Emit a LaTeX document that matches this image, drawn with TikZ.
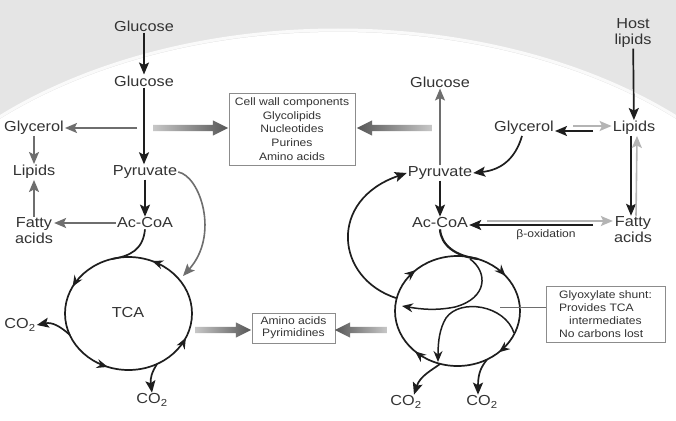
\documentclass[tikz,border=0pt]{standalone}
\usepackage{fontspec}
\setmainfont{Liberation Sans}[FakeStretch=1.12]
\usetikzlibrary{arrows.meta,shapes.arrows,decorations.markings}

\definecolor{txt}{HTML}{333333}
\definecolor{dk}{HTML}{1E1E1E}
\definecolor{md}{HTML}{6E6E6E}
\definecolor{lt}{HTML}{B4B4B4}

\tikzset{
  lbl/.style={font=\fontsize{14.5}{16}\selectfont, text=txt, inner sep=1pt},
  sml/.style={font=\fontsize{10.8}{13.7}\selectfont, text=txt},
  infobox/.style={draw=black!45, line width=0.8pt, fill=white, sml, align=center},
  blk/.style={draw=dk, line width=1.7pt, -{Stealth[length=12pt,width=10pt,inset=2.5pt]}},
  gry/.style={draw=md, line width=1.6pt, -{Stealth[length=12pt,width=10pt,inset=2.5pt]}},
  lgt/.style={draw=lt, line width=1.6pt, -{Stealth[length=12pt,width=10pt,inset=2.5pt]}},
  fatr/.style={single arrow, minimum height=#1, minimum width=15pt,
    single arrow head extend=4.5pt, single arrow tip angle=53,
    inner xsep=0pt, inner ysep=3pt,
    left color=black!22, right color=black!66},
  fatl/.style={fatr=#1, shape border rotate=180, left color=black!66, right color=black!22},
  loop/.style={color=dk, line width=1.7pt, postaction={decorate}},
}

\begin{document}
\begin{tikzpicture}[x=1pt,y=-1pt]
\useasboundingbox (0,0) rectangle (676,420);

% --- Background (cell) ---
\shade[left color=black!10, middle color=black!3, right color=black!10] (0,0) rectangle (676,420);
\fill[white] (338,332) ellipse [x radius=480, y radius=300];
\draw[black!2, line width=3pt] (338,332) ellipse [x radius=482, y radius=302];

% --- Left half: glycolysis ---
\node[lbl] (gluA) at (144,26) {Glucose};
\node[lbl] (gluB) at (144,81) {Glucose};
\node[lbl] (glyA) at (34,128) {Glycerol};
\node[lbl] (lipA) at (34,172) {Lipids};
\node[lbl, align=center] (fatA) at (34,231) {Fatty\\acids};
\node[lbl] (pyrA) at (145,172) {Pyruvate};
\node[lbl] (acoA) at (145,223) {Ac-CoA};
\node[lbl] (tcaA) at (128,313) {TCA};
\node[lbl] (coA) at (20,325) {CO\textsubscript{2}};
\node[lbl] (coB) at (152,400) {CO\textsubscript{2}};

\coordinate (jA) at (137,128);
\coordinate (acA) at (112,259);
\coordinate (inA) at (183,276);
\coordinate (lA) at (70,335);
\coordinate (bA) at (157,364);

\draw[blk] (gluA) -- (gluB);
\draw[blk] (gluB.south) -- (gluB.south |- pyrA.north);
\draw[gry] (jA) -- (glyA.east);
\draw[gry] (glyA) -- (lipA);
\draw[gry] (fatA) -- (lipA);
\draw[gry] (acoA.west) -- (acoA.west -| fatA.east);
\draw[blk] (pyrA) -- (acoA);

% TCA cycle
\draw[loop, decoration={markings,
    mark=at position 0.186 with {\arrow{Stealth[length=11pt,width=9pt]}},
    mark=at position 0.425 with {\arrow{Stealth[length=11pt,width=9pt]}},
    mark=at position 0.694 with {\arrow{Stealth[length=11pt,width=9pt]}},
    mark=at position 0.933 with {\arrow{Stealth[length=11pt,width=9pt]}}}]
  (192,313.5) arc[start angle=0, end angle=-360, x radius=63.5, y radius=56.5];
\draw[dk, line width=1.7pt] (acoA.south) .. controls (143,250) and (130,256) .. (acA);
\draw[gry] (pyrA.east) .. controls (200,176) and (220,235) .. (inA);
\draw[blk] (lA) .. controls (60,326) and (52,322) .. (coA.east);
\draw[blk] (bA) .. controls (152,372) and (150,378) .. (coB.north);

% --- Middle boxes ---
\node[infobox, minimum width=126pt, minimum height=72pt] (cwall) at (292,129)
  {Cell wall components\\Glycolipids\\Nucleotides\\Purines\\Amino acids};
\node[infobox, font=\fontsize{10.8}{12}\selectfont, minimum width=83pt, minimum height=30pt] (amino) at (293.5,328)
  {Amino acids\\Pyrimidines};
\node[fatr=75pt] (fwA) at (187.5,128) {};
\node[fatl=75pt] (fwB) at (397.5,128) {};
\node[fatr=56pt] (fwC) at (220,330) {};
\node[fatl=52pt] (fwD) at (364,330) {};

% --- Right half: lipid catabolism ---
\node[lbl] (gluC) at (440,82) {Glucose};
\node[lbl] (pyrC) at (440,173) {Pyruvate};
\node[lbl] (acoC) at (440,223) {Ac-CoA};
\node[lbl] (glyC) at (524,128) {Glycerol};
\node[lbl] (lipC) at (634,128) {Lipids};
\node[lbl, align=center] (host) at (633,33) {Host\\lipids};
\node[lbl, align=center] (fatC) at (633,230) {Fatty\\acids};
\node[sml] (beta) at (546,235) {β-oxidation};
\node[lbl] (coC) at (406,402) {CO\textsubscript{2}};
\node[lbl] (coD) at (482,402) {CO\textsubscript{2}};
\node[infobox, align=left, font=\fontsize{10.8}{13}\selectfont, minimum width=119pt, minimum height=56pt] (glyox) at (605.5,314)
  {Glyoxylate shunt:\\Provides TCA\\\hspace*{10pt}intermediates\\No carbons lost};

\coordinate (gl1) at (593,131);
\coordinate (gl2) at (573,126);
\coordinate (bo1) at (593,225);
\coordinate (bo2) at (487,221);
\coordinate (iA) at (470,259);
\coordinate (iAe) at (402,306);
\coordinate (iB) at (514,333);
\coordinate (iBe) at (438,362);
\coordinate (gs) at (500,307);
\coordinate (rL) at (396,298);
\coordinate (bC) at (440,364);
\coordinate (bD) at (487,359.5);
\coordinate (acC) at (478,259);

\draw[gry] (pyrC) -- (gluC);
\draw[blk] (pyrC) -- (acoC);
\draw[blk] (host) -- (lipC);
\draw[blk] (gl1) -- (gl1 -| glyC.east);
\draw[lgt] (gl2) -- (gl2 -| lipC.west);
\draw[blk] ([xshift=-2pt]glyC.south) .. controls (515,160) and (500,170) .. (pyrC.east);
\draw[blk] ([xshift=-3pt]lipC.south) -- ([xshift=-3pt]lipC.south |- fatC.north);
\draw[lgt] ([xshift=3pt]fatC.north) -- ([xshift=3pt]lipC.south);
\draw[blk] (bo1) -- (bo1 -| acoC.east);
\draw[lgt] (bo2) -- (bo2 -| fatC.west);

% TCA cycle with glyoxylate shunt
\draw[loop, decoration={markings,
    mark=at position 0.13 with {\arrow{Stealth[length=11pt,width=9pt]}},
    mark=at position 0.374 with {\arrow{Stealth[length=11pt,width=9pt]}},
    mark=at position 0.628 with {\arrow{Stealth[length=11pt,width=9pt]}},
    mark=at position 0.894 with {\arrow{Stealth[length=11pt,width=9pt]}}}]
  (520,311) arc[start angle=0, end angle=360, x radius=62.5, y radius=55];
\draw[dk, line width=2.2pt] (acoC.south) .. controls (441,245) and (455,256) .. (acC);
\draw[dk, line width=1.5pt, -{Stealth[length=11pt,width=9pt]}]
  (iA) .. controls (488,272) and (488,298) .. (455,307) .. controls (435,311) and (420,309) .. (iAe);
\draw[dk, line width=1.5pt, -{Stealth[length=11pt,width=9pt]}]
  (iB) .. controls (505,305) and (460,298) .. (446,318) .. controls (440,328) and (438,340) .. (iBe);
\draw[md, line width=1pt] (gs) -- (gs -| glyox.west);
\draw[blk] (rL) .. controls (335,278) and (328,200) .. (pyrC.west);
\draw[blk] (bC) .. controls (432,370) and (420,376) .. ([xshift=8pt]coC.north);
\draw[blk] (bD) .. controls (482,366) and (478,372) .. ([xshift=-4pt]coD.north);

\end{tikzpicture}
\end{document}
